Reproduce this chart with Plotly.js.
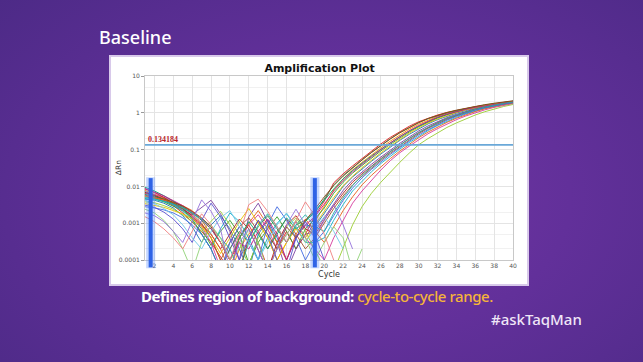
<!DOCTYPE html>
<html>
<head>
<meta charset="utf-8">
<script src="https://cdn.plot.ly/plotly-3.0.1.min.js"></script>
<style>
  html, body { margin:0; padding:0; width:643px; height:362px; overflow:hidden; }
  body {
    position:relative;
    background: radial-gradient(ellipse 75% 85% at 55% 55%, #7336a3 0%, #62309a 45%, #4c2a86 100%);
    font-family: "Noto Sans", "Open Sans", sans-serif;
  }
  #panel { position:absolute; left:109px; top:55px; width:416px; height:227px; background:#ffffff; border:2px solid #d8c9ea; }
  #chart { position:absolute; left:0; top:0; width:643px; height:362px; }
  .txt { position:absolute; white-space:nowrap; }
  #head { left:99px; top:25px; font-size:18px; color:#ffffff; font-weight:500; }
  #cap { left:141px; top:286px; font-size:15px; color:#ffffff; font-weight:700; letter-spacing:-0.45px; }
  #cap span { color:#f5b43a; font-weight:500; }
  #tag { left:491px; top:309px; font-size:15px; color:#efe6f7; font-weight:500; }
</style>
</head>
<body>
<div id="panel"></div>
<div id="chart"></div>
<div class="txt" id="head">Baseline</div>
<div class="txt" id="cap">Defines region of background: <span>cycle-to-cycle range.</span></div>
<div class="txt" id="tag">#askTaqMan</div>
<script>
// ---- data ----
const cycles = [1,2,3,4,5,6,7,8,9,10,11,12,13,14,15,16,17,18,19,20,21,22,23,24,25,26,27,28,29,30,31,32,33,34,35,36,37,38,39,40];
const threshold = 0.134184;
const baselineStart = 1.6;
const baselineEnd = 19;
const xTickVals = [2,4,6,8,10,12,14,16,18,20,22,24,26,28,30,32,34,36,38,40];
const yTickVals = [0.0001, 0.001, 0.01, 0.1, 1, 10];
const yTickText = ["0.0001", "0.001", "0.01", "0.1", "1", "10"];

const well01 = [0.0065,0.0055,0.0042,0.003,0.0019,0.0011,0.0006,0.0003,0.00012,0.00005,0.0004,0.0009,0.0003,0.00006,0.0002,0.0006,0.0002,0.0005,
  0.0016,0.004,0.0125,0.022,0.036,0.058,0.092,0.143,0.215,0.31,0.43,0.57,0.72,0.87,1.02,1.17,1.32,1.47,1.61,1.75,1.88,2.0];
const well02 = [0.0078,0.0062,0.0048,0.0033,0.0024,0.0015,0.0009,0.0004,0.0001,0.00004,0.0002,0.0005,0.0011,0.0004,0.0001,0.0003,0.0008,0.0004,
  0.0011,0.003,0.008,0.016,0.028,0.045,0.072,0.112,0.17,0.25,0.36,0.49,0.64,0.8,0.96,1.12,1.28,1.44,1.6,1.75,1.9,2.05];
const well03 = [0.0052,0.0047,0.0038,0.0029,0.0022,0.0014,0.0007,0.00025,0.0006,0.0012,0.0005,0.00008,0.0003,0.0007,0.0015,0.0006,0.0002,0.0007,
  0.0013,0.0026,0.0065,0.013,0.023,0.037,0.059,0.092,0.14,0.21,0.3,0.42,0.56,0.72,0.89,1.06,1.23,1.4,1.57,1.73,1.88,2.02];
const well04 = [0.0045,0.0042,0.0035,0.0026,0.0016,0.0008,0.0003,0.0009,0.0016,0.0007,0.0002,0.00005,0.0005,0.0012,0.0004,0.0001,0.0004,0.0009,
  0.0008,0.0019,0.0045,0.01,0.018,0.03,0.048,0.076,0.118,0.178,0.26,0.37,0.5,0.65,0.81,0.98,1.15,1.33,1.5,1.66,1.82,1.97];
const well05 = [0.0072,0.0058,0.0044,0.0031,0.0023,0.0017,0.0026,0.0042,0.0018,0.0006,0.0001,0.0015,0.0035,0.0011,0.0003,0.00005,0.0002,0.0005,
  0.0006,0.0014,0.0035,0.0078,0.015,0.025,0.04,0.063,0.098,0.148,0.22,0.32,0.44,0.58,0.74,0.91,1.09,1.27,1.45,1.62,1.78,1.94];
const well06 = [0.0058,0.005,0.0041,0.0035,0.0027,0.0018,0.001,0.0004,0.0001,0.0003,0.0008,0.0014,0.0006,0.0002,0.0006,0.0013,0.0005,0.0002,
  0.0004,0.001,0.0025,0.0055,0.011,0.019,0.032,0.051,0.08,0.122,0.183,0.27,0.38,0.51,0.66,0.83,1.01,1.2,1.39,1.57,1.74,1.9];
const well07 = [0.0049,0.0046,0.004,0.0032,0.0021,0.0012,0.0005,0.0002,0.0007,0.0019,0.0011,0.0004,0.0001,0.0004,0.001,0.0018,0.0008,0.0003,
  0.0003,0.0004,0.0012,0.0032,0.0075,0.014,0.025,0.042,0.067,0.103,0.155,0.23,0.33,0.45,0.59,0.75,0.93,1.12,1.32,1.51,1.69,1.86];
const well08 = [0.0066,0.006,0.0051,0.0039,0.0027,0.0015,0.0008,0.0003,0.00006,0.0002,0.0005,0.0009,0.0017,0.0007,0.0002,0.0005,0.0011,0.0004,
  0.0002,0.0001,0.0004,0.0012,0.0035,0.0075,0.015,0.028,0.05,0.082,0.124,0.185,0.27,0.37,0.5,0.65,0.82,1.01,1.2,1.4,1.59,1.77];
const well09 = [0.0038,0.0036,0.003,0.0024,0.0017,0.0011,0.0006,0.0011,0.0021,0.0009,0.0003,0.00007,0.0004,0.0009,0.0003,0.0008,0.0014,0.0006,
  0.0002,0.00006,0.00005,0.0002,0.0009,0.0028,0.0065,0.013,0.025,0.045,0.08,0.135,0.2,0.29,0.4,0.53,0.69,0.87,1.07,1.28,1.48,1.68];
const well10 = [0.0085,0.0068,0.005,0.0036,0.0025,0.0016,0.0009,0.0005,0.0002,0.0005,0.0013,0.0007,0.0002,0.00005,0.0003,0.0009,0.0016,0.0007,
  0.0005,0.0012,0.003,0.0065,0.013,0.022,0.036,0.057,0.088,0.134,0.2,0.29,0.4,0.54,0.7,0.87,1.05,1.24,1.43,1.61,1.78,1.95];
const well11 = [0.0061,0.0053,0.0045,0.0034,0.0025,0.0013,0.0005,0.0002,0.00005,0.0002,0.0006,0.0003,0.0008,0.0016,0.0007,0.0003,0.0009,0.0012,
  0.0019,0.0045,0.011,0.02,0.033,0.053,0.084,0.13,0.197,0.29,0.4,0.54,0.69,0.84,0.99,1.15,1.31,1.47,1.63,1.78,1.93,2.08];
const well12 = [0.0055,0.0049,0.0043,0.0037,0.003,0.0022,0.0012,0.0005,0.0002,0.00005,0.0004,0.001,0.0022,0.0009,0.0003,0.0001,0.0005,0.0013,
  0.0006,0.0003,0.0008,0.0022,0.0052,0.011,0.02,0.034,0.057,0.091,0.139,0.21,0.3,0.41,0.55,0.71,0.89,1.08,1.28,1.48,1.67,1.85];
const well13 = [0.0095,0.0075,0.0056,0.004,0.0028,0.0019,0.0012,0.0007,0.0003,0.0001,0.0004,0.0011,0.0005,0.0002,0.0005,0.0014,0.0007,0.0011,
  0.0021,0.0042,0.0085,0.016,0.027,0.043,0.067,0.102,0.153,0.225,0.32,0.44,0.58,0.74,0.9,1.07,1.24,1.41,1.58,1.74,1.9,2.05];
const well14 = [0.0034,0.0031,0.0027,0.0022,0.0018,0.0013,0.0008,0.0004,0.00015,0.0004,0.0011,0.0025,0.001,0.0004,0.0001,0.0003,0.0007,0.0003,
  0.0009,0.0022,0.005,0.0105,0.019,0.032,0.052,0.082,0.126,0.19,0.28,0.39,0.53,0.68,0.85,1.02,1.2,1.38,1.56,1.73,1.89,2.04];
const well15 = [0.0028,0.0026,0.0023,0.0019,0.0014,0.0009,0.0005,0.0002,0.00005,0.0003,0.0008,0.0003,0.0001,0.0009,0.0028,0.0012,0.0004,0.0001,
  0.0003,0.0006,0.0016,0.0042,0.009,0.017,0.029,0.047,0.074,0.113,0.17,0.25,0.35,0.48,0.63,0.8,0.98,1.17,1.36,1.55,1.72,1.88];
const well16 = [0.0088,0.0071,0.0055,0.0041,0.003,0.002,0.0013,0.0007,0.0003,0.0001,0.0003,0.0002,0.0006,0.0013,0.0005,0.0001,0.0004,0.0009,
  0.0015,0.0033,0.0075,0.0145,0.025,0.04,0.064,0.1,0.152,0.225,0.325,0.45,0.6,0.76,0.92,1.08,1.24,1.4,1.56,1.71,1.86,2.0];
const well17 = [0.0047,0.0044,0.0039,0.0033,0.0026,0.0019,0.0013,0.0008,0.0004,0.0002,0.00005,0.0003,0.0009,0.0018,0.0008,0.0003,0.0009,0.0017,
  0.0008,0.0006,0.0019,0.0048,0.0105,0.02,0.034,0.055,0.087,0.133,0.198,0.29,0.4,0.54,0.7,0.87,1.05,1.24,1.43,1.62,1.8,1.96];
const well18 = [0.0069,0.0057,0.0046,0.0037,0.0029,0.0021,0.0014,0.0008,0.0003,0.0001,0.00005,0.0004,0.0012,0.0005,0.0002,0.0008,0.0004,0.0012,
  0.0024,0.0052,0.0105,0.019,0.032,0.052,0.083,0.128,0.195,0.285,0.4,0.54,0.7,0.86,1.02,1.18,1.34,1.5,1.66,1.82,1.97,2.12];
const ntc01 = [0.0024,0.0019,0.0012,0.0006,0.0002,0.00005,0.0003,0.0009,0.0004,0.0001,0.0002,0.0007,0.0003,0.00005,0.0002,0.0005,0.0012,0.0004,
  0.0001,0.0003,0.0008,0.0004,0.00005,0.0002,null,null,null,null,null,null,null,null,null,null,null,null,null,null,null,null];
const ntc02 = [0.0031,0.0027,0.002,0.0013,0.0007,0.0003,0.0012,0.0035,0.0015,0.0004,0.0001,0.0004,0.0012,0.0005,0.0001,0.00005,0.0004,0.0011,
  0.0005,0.0001,null,null,null,null,null,null,null,null,null,null,null,null,null,null,null,null,null,null,null,null];
const ntc03 = [0.0042,0.0034,0.0025,0.0017,0.0009,0.0004,0.0002,0.0006,0.0014,0.0022,0.0008,0.0003,0.0001,0.0003,0.0009,0.0019,0.0008,0.0003,
  0.0007,0.0015,0.0006,0.0002,null,null,null,null,null,null,null,null,null,null,null,null,null,null,null,null,null,null];
const ntc04 = [0.0015,0.0011,0.0007,0.0004,0.0002,0.0006,0.0018,0.0009,0.0003,0.0001,0.0005,0.0032,0.0045,0.0021,0.0008,0.0003,0.0012,0.0038,
  0.0016,0.0005,0.0001,null,null,null,null,null,null,null,null,null,null,null,null,null,null,null,null,null,null,null];
const ntc05 = [0.0019,0.0016,0.0011,0.0006,0.0003,0.0012,0.0043,0.0021,0.0007,0.00005,0.0003,0.0007,0.0002,0.00005,0.0002,0.0009,0.0024,0.0009,
  0.0004,0.0012,0.0032,0.0009,0.0002,null,null,null,null,null,null,null,null,null,null,null,null,null,null,null,null,null];

const wells = [well01, well02, well03, well04, well05, well06, well07, well08, well09, well10, well11, well12,
               well13, well14, well15, well16, well17, well18, ntc01, ntc02, ntc03, ntc04, ntc05];
const wellColors = ['#e31a1c','#ff8c00','#33a02c','#1f78b4','#7b3fa0','#a0522d','#17b3c9','#d63a9c','#9acd32','#b22222','#2e8b57','#e8601c',
                    '#00a86b','#e6c200','#4169e1','#c71585','#20b2aa','#8b4513','#8fd175','#5a4fcf','#6ec6e8','#f08080','#9370db'];

const traces = wells.map((w, i) => ({
  x: cycles, y: w, type: 'scatter', mode: 'lines',
  line: {color: wellColors[i], width: 1}, opacity: 0.9, connectgaps: false, hoverinfo: 'skip'
}));
traces.push({
  x: [cycles[0], cycles[cycles.length-1]], y: [threshold, threshold],
  type: 'scatter', mode: 'lines', line: {color: '#6aa8d8', width: 1.6}, hoverinfo: 'skip'
});

const barShapes = [];
[baselineStart, baselineEnd].forEach(xv => {
  barShapes.push({type:'line', xref:'x', yref:'paper', x0:xv, x1:xv, y0:-0.045, y1:0.45, line:{color:'rgba(90,140,255,0.35)', width:9}});
  barShapes.push({type:'line', xref:'x', yref:'paper', x0:xv, x1:xv, y0:-0.04, y1:0.445, line:{color:'#2f63e6', width:4}});
});

const layout = {
  width: 643, height: 362,
  margin: {l:145, r:130, t:76, b:102, pad:0},
  paper_bgcolor: 'rgba(0,0,0,0)', plot_bgcolor: '#ffffff',
  showlegend: false,
  title: {text: '<b>Amplification Plot</b>', x: 0.497, xanchor:'center', xref:'container', y: 1 - 68/362, yanchor:'middle', yref:'container',
          font: {family:'DejaVu Sans, Verdana, sans-serif', size: 11, color:'#111'}},
  xaxis: {range:[1,40], tickvals: xTickVals, ticks:'', showline:true, linecolor:'#c8c8c8', mirror:true,
          showgrid:true, gridcolor:'#e4e4e4', gridwidth:1, zeroline:false,
          tickfont:{family:'DejaVu Sans, sans-serif', size:6, color:'#555'},
          title:{text:'Cycle', font:{family:'DejaVu Sans, sans-serif', size:8, color:'#333'}, standoff:3}},
  yaxis: {type:'log', range:[-4,1], tickvals: yTickVals, ticktext: yTickText, ticks:'outside', ticklen:3, tickcolor:'#999',
          showline:true, linecolor:'#c8c8c8', mirror:true,
          showgrid:true, gridcolor:'#e4e4e4', zeroline:false,
          minor:{showgrid:true, gridcolor:'#f1f1f1', ticks:''},
          tickfont:{family:'DejaVu Sans, sans-serif', size:6, color:'#555'}},
  shapes: barShapes,
  annotations: [
    {x:1, y:Math.log10(threshold), xref:'x', yref:'y', xanchor:'left', yanchor:'bottom', showarrow:false,
     text:'<b>' + threshold.toString() + '</b>', font:{family:'Liberation Serif, serif', size:8, color:'#b8262c'}, yshift:-1, xshift:1},
    {x:-0.073, y:0.5, xref:'paper', yref:'paper', xanchor:'center', yanchor:'middle', showarrow:false, textangle:-90,
     text:'ΔRn', font:{family:'DejaVu Sans, sans-serif', size:7.5, color:'#333'}}
  ]
};

Plotly.newPlot('chart', traces, layout, {staticPlot:true, displayModeBar:false});
</script>
</body>
</html>
